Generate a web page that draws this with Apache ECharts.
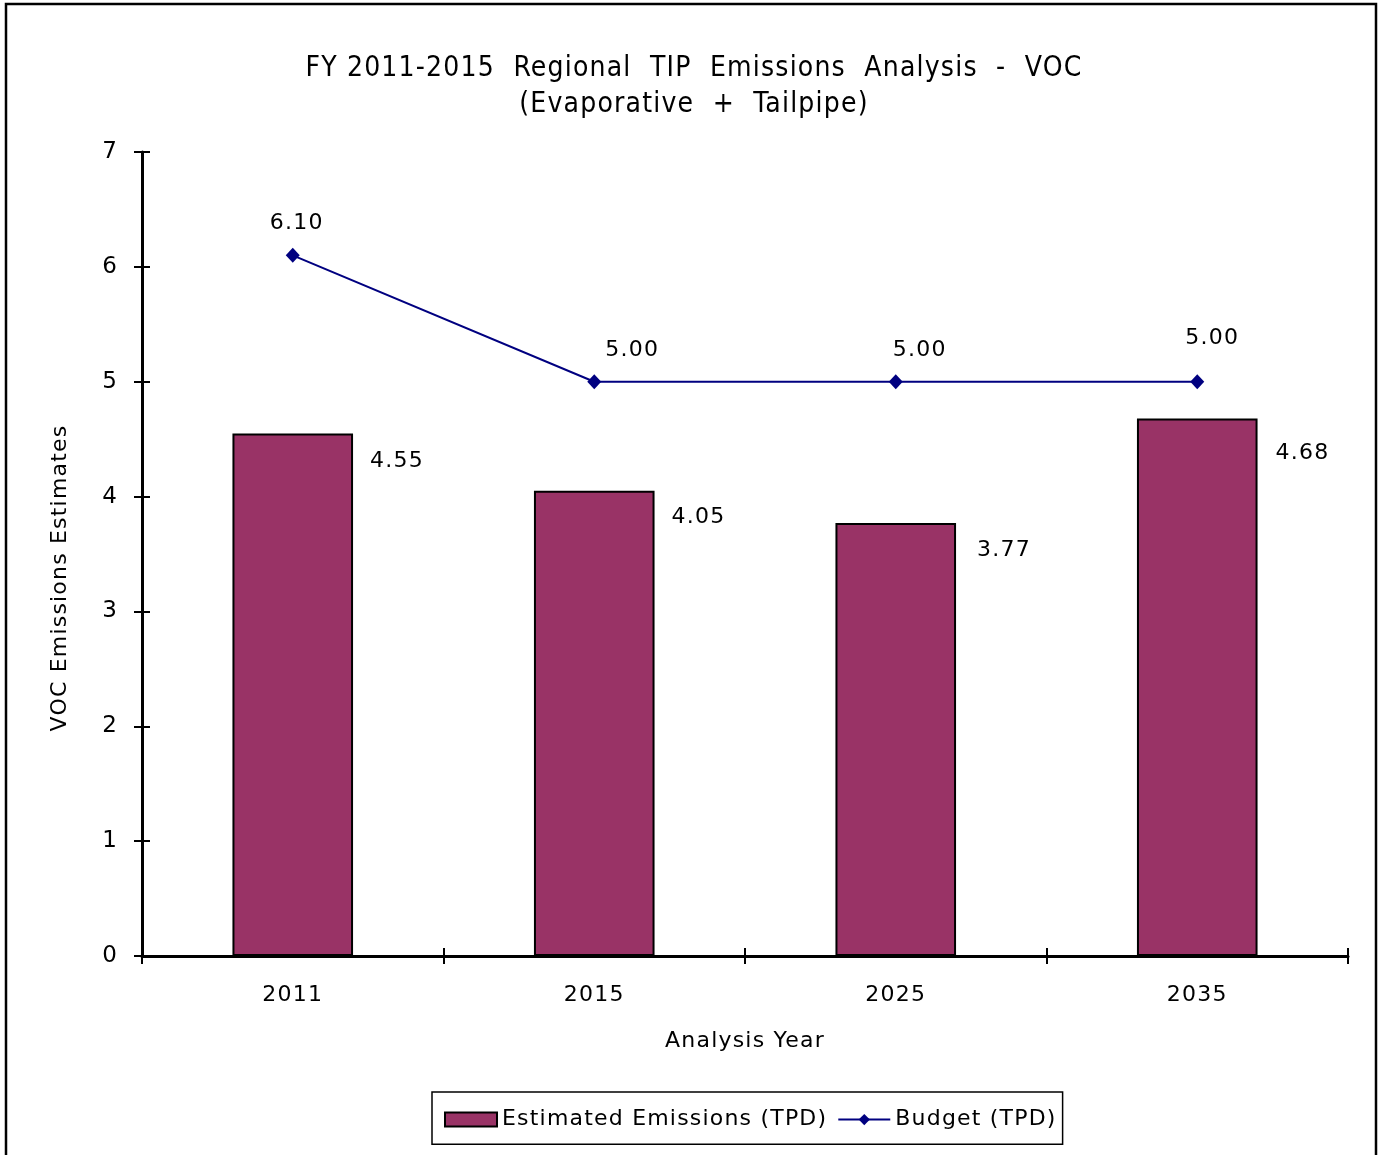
<!DOCTYPE html>
<html>
<head>
<meta charset="utf-8">
<script>
// give all canvas text a slight letter spacing, like the original rendering
(function () {
  var orig = HTMLCanvasElement.prototype.getContext;
  HTMLCanvasElement.prototype.getContext = function (type, opts) {
    var ctx = orig.call(this, type, opts);
    if (ctx && type === '2d' && 'letterSpacing' in ctx) {
      ctx.letterSpacing = '1.2px';
    }
    return ctx;
  };
})();
</script>
<script src="https://cdn.jsdelivr.net/npm/echarts@6/dist/echarts.min.js"></script>
<style>
html,body{margin:0;padding:0;background:#fff;}
#main{width:1378px;height:1155px;}
</style>
</head>
<body>
<div id="main"></div>
<script>
var categories = ['2011', '2015', '2025', '2035'];
var estimatedEmissions = [4.55, 4.05, 3.77, 4.68];
var budget = [6.10, 5.00, 5.00, 5.00];
var yTicks = {min: 0, max: 7, interval: 1};

// label placement (style only)
var budgetLabelOffsets = [[4, -8], [38, -7], [24, -7], [15, -19]];
var barLabelOffsets = [[17, 28], [17, 26], [21, 27], [18, 35]];

var FONT = 'DejaVu Sans';
var chart = echarts.init(document.getElementById('main'));

var option = {
  backgroundColor: '#ffffff',
  animation: false,
  textStyle: {fontFamily: FONT, color: '#000'},
  graphic: [{
    type: 'rect',
    shape: {x: 6, y: 4, width: 1370, height: 1170},
    style: {fill: 'none', stroke: '#000', lineWidth: 2.5},
    silent: true
  }],
  title: {
    text: 'FY 2011-2015  Regional  TIP  Emissions  Analysis  -  VOC\n(Evaporative  +  Tailpipe)',
    left: 689,
    top: 46,
    textAlign: 'center',
    textStyle: {fontFamily: 'DejaVu Sans Condensed', fontSize: 28, fontWeight: 'normal', color: '#000', lineHeight: 36}
  },
  legend: {
    left: 432,
    top: 1092,
    padding: [16, 6, 13, 12],
    borderColor: '#000',
    borderWidth: 1.5,
    itemWidth: 52,
    itemHeight: 14,
    itemGap: 10,
    textStyle: {fontFamily: FONT, fontSize: 22, color: '#000'},
    data: [
      {name: 'Estimated Emissions (TPD)', icon: 'rect'},
      {name: 'Budget (TPD)'}
    ]
  },
  grid: {left: 142, right: 30, top: 152, bottom: 199, containLabel: false},
  xAxis: [{
    type: 'category',
    data: categories,
    position: 'bottom',
    boundaryGap: true,
    name: 'Analysis Year',
    nameLocation: 'middle',
    nameGap: 74,
    nameTextStyle: {fontFamily: FONT, fontSize: 22, color: '#000'},
    axisLine: {show: true, lineStyle: {color: '#000', width: 3}},
    axisTick: {show: true, alignWithLabel: false, length: 8, lineStyle: {color: '#000', width: 2}},
    axisLabel: {fontFamily: FONT, fontSize: 22, color: '#000', margin: 28},
    splitLine: {show: false}
  }, {
    type: 'category',
    data: categories,
    position: 'bottom',
    boundaryGap: true,
    axisLine: {show: false},
    axisTick: {show: true, inside: true, length: 8, lineStyle: {color: '#000', width: 2}},
    axisLabel: {show: false},
    splitLine: {show: false}
  }],
  yAxis: [{
    type: 'value',
    min: yTicks.min,
    max: yTicks.max,
    interval: yTicks.interval,
    position: 'left',
    name: 'VOC Emissions Estimates',
    nameLocation: 'middle',
    nameGap: 70,
    nameTextStyle: {fontFamily: FONT, fontSize: 22, color: '#000', padding: [0, 48, 0, 0]},
    axisLine: {show: true, lineStyle: {color: '#000', width: 3}},
    axisTick: {show: true, length: 8, lineStyle: {color: '#000', width: 2}},
    axisLabel: {fontFamily: FONT, fontSize: 23, color: '#000', margin: 24},
    splitLine: {show: false}
  }, {
    type: 'value',
    min: yTicks.min,
    max: yTicks.max,
    interval: yTicks.interval,
    position: 'left',
    axisLine: {show: false},
    axisTick: {show: true, inside: true, length: 8, lineStyle: {color: '#000', width: 2}},
    axisLabel: {show: false},
    splitLine: {show: false}
  }],
  series: [{
    name: 'Estimated Emissions (TPD)',
    type: 'bar',
    xAxisIndex: 0,
    yAxisIndex: 0,
    data: estimatedEmissions.map(function (v, i) {
      return {value: v, label: {offset: barLabelOffsets[i]}};
    }),
    barWidth: '40%',
    itemStyle: {color: '#993366', borderColor: '#000', borderWidth: 2},
    label: {
      show: true,
      position: ['100%', 0],
      align: 'left',
      verticalAlign: 'middle',
      fontFamily: FONT,
      fontSize: 22,
      color: '#000',
      formatter: function (p) { return p.value.toFixed(2); }
    },
    z: 2
  }, {
    name: 'Budget (TPD)',
    type: 'line',
    xAxisIndex: 0,
    yAxisIndex: 0,
    data: budget.map(function (v, i) {
      return {value: v, label: {offset: budgetLabelOffsets[i]}};
    }),
    symbol: 'diamond',
    symbolSize: [14, 15],
    lineStyle: {color: '#000080', width: 2},
    itemStyle: {color: '#000080'},
    label: {
      show: true,
      position: 'top',
      fontFamily: FONT,
      fontSize: 22,
      color: '#000',
      formatter: function (p) { return p.value.toFixed(2); }
    },
    z: 3
  }]
};
chart.setOption(option);
</script>
</body>
</html>
